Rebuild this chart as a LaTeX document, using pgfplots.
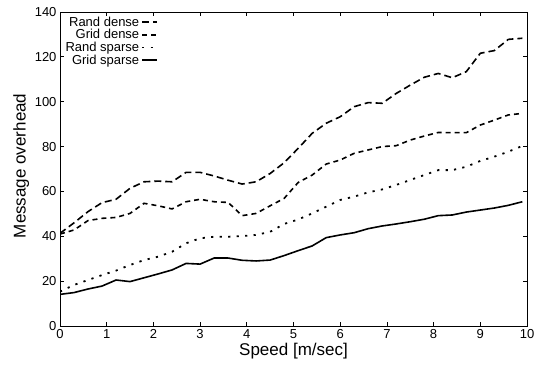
\documentclass[border=0pt]{standalone}
\usepackage{pgfplots}
\pgfplotsset{compat=1.18}
\usepackage{fontspec}
\setmainfont{Liberation Sans}
\begin{document}
\begin{tikzpicture}
\path[use as bounding box] (-60pt,-39pt) rectangle (489pt,326pt);
\begin{axis}[
  scale only axis,
  width=467pt, height=314pt,
  xmin=0, xmax=10, ymin=0, ymax=140,
  xtick={0,1,...,10}, ytick={0,20,...,140},
  /pgf/number format/assume math mode=true,
  tick label style={font=\fontsize{13}{14}\selectfont},
  label style={font=\fontsize{17}{19}\selectfont},
  xlabel={Speed [m/sec]},
  ylabel={Message overhead},
  xlabel style={at={(axis description cs:0.5,-0.08)}, anchor=center},
  ylabel style={at={(axis description cs:-0.083,0.51)}, anchor=center},
  axis line style={line width=1pt},
  major tick length=4pt,
  tick style={line width=0.8pt, black},
  legend style={at={(0.005,0.995)}, anchor=north west, draw=none, fill=none,
    font=\fontsize{13}{10.5}\selectfont, row sep=-2.3pt, inner sep=1pt},
  legend cell align=right,
  legend plot pos=right,
  legend image post style={xscale=0.85},
  every axis plot/.append style={line width=1.6pt, black},
]
\addplot[dash pattern=on 7pt off 4pt] coordinates {
(0,41.3)(0.3,46)(0.6,51)(0.9,55)(1.2,56.5)(1.5,61.4)(1.8,64.3)(2.1,64.6)(2.4,64.3)(2.7,68.5)(3.0,68.5)(3.3,66.9)(3.6,65)(3.9,63.3)(4.2,64.3)(4.5,68)(4.8,72.8)(5.1,79.2)(5.4,85.9)(5.7,90.4)(6.0,93.3)(6.3,97.8)(6.6,99.6)(6.9,99.3)(7.2,103.7)(7.5,107.4)(7.8,110.9)(8.1,112.6)(8.4,110.7)(8.7,113.4)(9.0,121.6)(9.3,122.8)(9.6,127.8)(9.9,128.3)
};
\addlegendentry{Rand dense}
\addplot[dash pattern=on 5pt off 4pt] coordinates {
(0,41)(0.3,42.8)(0.6,47)(0.9,48)(1.2,48.4)(1.5,50.2)(1.8,54.7)(2.1,53.6)(2.4,52.2)(2.7,55.4)(3.0,56.5)(3.3,55.4)(3.6,55.1)(3.9,49.2)(4.2,50.2)(4.5,53.6)(4.8,56.9)(5.1,64)(5.4,67.3)(5.7,72.2)(6.0,74)(6.3,77)(6.6,78.5)(6.9,80)(7.2,80.4)(7.5,82.9)(7.8,84.7)(8.1,86.3)(8.4,86.2)(8.7,86.2)(9.0,89.6)(9.3,91.8)(9.6,94.1)(9.9,94.8)
};
\addlegendentry{Grid dense}
\addplot[line width=1.8pt, dash pattern=on 2.2pt off 6.3pt] coordinates {
(0,15.3)(0.3,18.3)(0.6,20.5)(0.9,22.7)(1.2,24.7)(1.5,27.2)(1.8,29.4)(2.1,30.9)(2.4,33.1)(2.7,36.9)(3.0,39.1)(3.3,39.8)(3.6,39.8)(3.9,40.1)(4.2,40.6)(4.5,42)(4.8,45.5)(5.1,47.5)(5.4,50.2)(5.7,53.2)(6.0,56.2)(6.3,57.7)(6.6,59.6)(6.9,60.9)(7.2,62.9)(7.5,65.1)(7.8,67.3)(8.1,69.5)(8.4,69.5)(8.7,71)(9.0,73.6)(9.3,75.5)(9.6,77.7)(9.9,80.3)
};
\addlegendentry{Rand sparse}
\addplot[solid] coordinates {
(0,14.1)(0.3,14.9)(0.6,16.5)(0.9,17.8)(1.2,20.5)(1.5,19.8)(1.8,21.5)(2.1,23.2)(2.4,25)(2.7,27.9)(3.0,27.6)(3.3,30.3)(3.6,30.3)(3.9,29.3)(4.2,29)(4.5,29.4)(4.8,31.4)(5.1,33.6)(5.4,35.7)(5.7,39.4)(6.0,40.6)(6.3,41.6)(6.6,43.4)(6.9,44.6)(7.2,45.5)(7.5,46.5)(7.8,47.6)(8.1,49.2)(8.4,49.5)(8.7,50.8)(9.0,51.7)(9.3,52.6)(9.6,53.8)(9.9,55.4)
};
\addlegendentry{Grid sparse}
\end{axis}
\end{tikzpicture}
\end{document}
